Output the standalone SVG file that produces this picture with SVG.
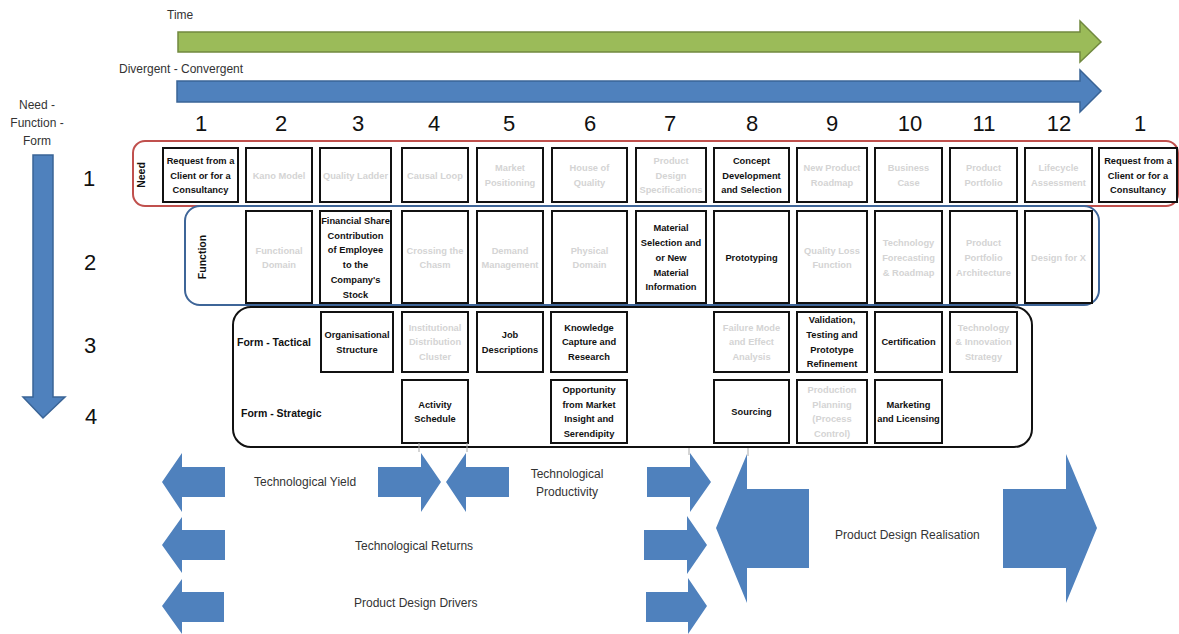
<svg xmlns="http://www.w3.org/2000/svg" width="1179" height="634" viewBox="0 0 1179 634">
<style>
text{font-family:"Liberation Sans",Arial,sans-serif}
.lbl{font-size:12px;fill:#333}
.num{font-size:22px;fill:#111}
.cell{fill:#fff;stroke:#111;stroke-width:2}
.t{font-size:9.3px;font-weight:bold;text-anchor:middle;fill:#111}
.g{font-size:9.3px;font-weight:bold;text-anchor:middle;fill:#d4d4d4}
.hdr{font-size:10.5px;font-weight:bold;fill:#111}
.blue{fill:#4f81bd}
.tick{stroke:#aaa;stroke-width:1}
</style>
<g id="time-arrow">
<path d="M178,32 H1080 V21 L1101,42 L1080,62 V52 H178 Z" fill="#9bbb59" stroke="#71893f" stroke-width="1.5"/>
<text class="lbl" x="167" y="19">Time</text>
</g>
<g id="divergent-arrow">
<path d="M177,81 H1080 V70 L1101,91 L1080,112 V102 H177 Z" fill="#4f81bd" stroke="#3a6496" stroke-width="1.5"/>
<text class="lbl" x="119" y="73">Divergent - Convergent</text>
</g>
<g id="nff-arrow">
<text class="lbl" x="37" y="109" text-anchor="middle">Need -</text>
<text class="lbl" x="37" y="127" text-anchor="middle">Function -</text>
<text class="lbl" x="37" y="145" text-anchor="middle">Form</text>
<path d="M33,155 H53 V397 H65 L43,418 L23,397 H33 Z" fill="#4f81bd" stroke="#3a6496" stroke-width="1.5"/>
</g>
<g id="column-numbers" class="num" text-anchor="middle">
<text x="201" y="131" class="num">1</text>
<text x="281" y="131" class="num">2</text>
<text x="358" y="131" class="num">3</text>
<text x="434" y="131" class="num">4</text>
<text x="509" y="131" class="num">5</text>
<text x="590" y="131" class="num">6</text>
<text x="670" y="131" class="num">7</text>
<text x="752" y="131" class="num">8</text>
<text x="832" y="131" class="num">9</text>
<text x="910" y="131" class="num">10</text>
<text x="984" y="131" class="num">11</text>
<text x="1059" y="131" class="num">12</text>
<text x="1140" y="131" class="num">1</text>
</g>
<g id="row-numbers" text-anchor="middle">
<text x="89" y="186" class="num">1</text>
<text x="90" y="270" class="num">2</text>
<text x="90" y="353" class="num">3</text>
<text x="91" y="424" class="num">4</text>
</g>
<g id="need-band">
<rect x="133" y="141" width="1045" height="65" rx="12" fill="none" stroke="#c0504d" stroke-width="2"/>
<text class="hdr" transform="translate(145,175) rotate(-90)" text-anchor="middle">Need</text>
</g>
<g id="function-band">
<rect x="185" y="206" width="914" height="99" rx="15" fill="none" stroke="#3e6598" stroke-width="2"/>
<text class="hdr" transform="translate(206,257) rotate(-90)" text-anchor="middle">Function</text>
</g>
<g id="form-band">
<rect x="233" y="307" width="799" height="140" rx="18" fill="none" stroke="#111" stroke-width="2"/>
<text class="hdr" x="237" y="346">Form - Tactical</text>
<text class="hdr" x="241" y="417">Form - Strategic</text>
</g>
<g id="need-1"><rect class="cell" x="163" y="148" width="75" height="54"/><text class="t" x="200.5" y="164">Request from a</text><text class="t" x="200.5" y="178.6">Client or for a</text><text class="t" x="200.5" y="193.3">Consultancy</text></g>
<g id="need-2"><rect class="cell" x="246" y="148" width="66" height="54"/><text class="g" x="279" y="178.6">Kano Model</text></g>
<g id="need-3"><rect class="cell" x="320" y="148" width="71" height="54"/><text class="g" x="355.5" y="178.6">Quality Ladder</text></g>
<g id="need-4"><rect class="cell" x="402" y="148" width="66" height="54"/><text class="g" x="435" y="178.6">Causal Loop</text></g>
<g id="need-5"><rect class="cell" x="477" y="148" width="66" height="54"/><text class="g" x="510" y="171.3">Market</text><text class="g" x="510" y="186">Positioning</text></g>
<g id="need-6"><rect class="cell" x="552" y="148" width="75" height="54"/><text class="g" x="589.5" y="171.3">House of</text><text class="g" x="589.5" y="186">Quality</text></g>
<g id="need-7"><rect class="cell" x="636" y="148" width="70" height="54"/><text class="g" x="671" y="164">Product</text><text class="g" x="671" y="178.6">Design</text><text class="g" x="671" y="193.3">Specifications</text></g>
<g id="need-8"><rect class="cell" x="714" y="148" width="75" height="54"/><text class="t" x="751.5" y="164">Concept</text><text class="t" x="751.5" y="178.6">Development</text><text class="t" x="751.5" y="193.3">and Selection</text></g>
<g id="need-9"><rect class="cell" x="797" y="148" width="70" height="54"/><text class="g" x="832" y="171.3">New Product</text><text class="g" x="832" y="186">Roadmap</text></g>
<g id="need-10"><rect class="cell" x="875" y="148" width="67" height="54"/><text class="g" x="908.5" y="171.3">Business</text><text class="g" x="908.5" y="186">Case</text></g>
<g id="need-11"><rect class="cell" x="950" y="148" width="67" height="54"/><text class="g" x="983.5" y="171.3">Product</text><text class="g" x="983.5" y="186">Portfolio</text></g>
<g id="need-12"><rect class="cell" x="1025" y="148" width="67" height="54"/><text class="g" x="1058.5" y="171.3">Lifecycle</text><text class="g" x="1058.5" y="186">Assessment</text></g>
<g id="need-13"><rect class="cell" x="1099" y="148" width="78" height="54"/><text class="t" x="1138" y="164">Request from a</text><text class="t" x="1138" y="178.6">Client or for a</text><text class="t" x="1138" y="193.3">Consultancy</text></g>
<g id="func-2"><rect class="cell" x="246" y="211" width="66" height="92"/><text class="g" x="279" y="253.5">Functional</text><text class="g" x="279" y="268.2">Domain</text></g>
<g id="func-3"><rect class="cell" x="320" y="211" width="71" height="92"/><text class="t" x="355.5" y="224">Financial Share</text><text class="t" x="355.5" y="238.7">Contribution</text><text class="t" x="355.5" y="253.4">of Employee</text><text class="t" x="355.5" y="268.1">to the</text><text class="t" x="355.5" y="282.8">Company's</text><text class="t" x="355.5" y="297.5">Stock</text></g>
<g id="func-4"><rect class="cell" x="402" y="211" width="66" height="92"/><text class="g" x="435" y="253.5">Crossing the</text><text class="g" x="435" y="268.2">Chasm</text></g>
<g id="func-5"><rect class="cell" x="477" y="211" width="66" height="92"/><text class="g" x="510" y="253.5">Demand</text><text class="g" x="510" y="268.2">Management</text></g>
<g id="func-6"><rect class="cell" x="552" y="211" width="75" height="92"/><text class="g" x="589.5" y="253.5">Physical</text><text class="g" x="589.5" y="268.2">Domain</text></g>
<g id="func-7"><rect class="cell" x="636" y="211" width="70" height="92"/><text class="t" x="671" y="231.4">Material</text><text class="t" x="671" y="246.1">Selection and</text><text class="t" x="671" y="260.8">or New</text><text class="t" x="671" y="275.5">Material</text><text class="t" x="671" y="290.2">Information</text></g>
<g id="func-8"><rect class="cell" x="714" y="211" width="75" height="92"/><text class="t" x="751.5" y="260.8">Prototyping</text></g>
<g id="func-9"><rect class="cell" x="797" y="211" width="70" height="92"/><text class="g" x="832" y="253.5">Quality Loss</text><text class="g" x="832" y="268.2">Function</text></g>
<g id="func-10"><rect class="cell" x="875" y="211" width="67" height="92"/><text class="g" x="908.5" y="246.3">Technology</text><text class="g" x="908.5" y="260.8">Forecasting</text><text class="g" x="908.5" y="275.5">&amp; Roadmap</text></g>
<g id="func-11"><rect class="cell" x="950" y="211" width="67" height="92"/><text class="g" x="983.5" y="246.3">Product</text><text class="g" x="983.5" y="260.8">Portfolio</text><text class="g" x="983.5" y="275.5">Architecture</text></g>
<g id="func-12"><rect class="cell" x="1025" y="211" width="67" height="92"/><text class="g" x="1058.5" y="260.8">Design for X</text></g>
<g id="tac-3"><rect class="cell" x="321" y="312" width="72" height="60"/><text class="t" x="357" y="338">Organisational</text><text class="t" x="357" y="352.7">Structure</text></g>
<g id="tac-4"><rect class="cell" x="402" y="312" width="66" height="60"/><text class="g" x="435" y="330.6">Institutional</text><text class="g" x="435" y="345.3">Distribution</text><text class="g" x="435" y="360">Cluster</text></g>
<g id="tac-5"><rect class="cell" x="477" y="312" width="66" height="60"/><text class="t" x="510" y="338">Job</text><text class="t" x="510" y="352.7">Descriptions</text></g>
<g id="tac-6"><rect class="cell" x="551" y="312" width="76" height="60"/><text class="t" x="589" y="330.6">Knowledge</text><text class="t" x="589" y="345.3">Capture and</text><text class="t" x="589" y="360">Research</text></g>
<g id="tac-8"><rect class="cell" x="714" y="312" width="75" height="60"/><text class="g" x="751.5" y="330.6">Failure Mode</text><text class="g" x="751.5" y="345.3">and Effect</text><text class="g" x="751.5" y="360">Analysis</text></g>
<g id="tac-9"><rect class="cell" x="797" y="312" width="70" height="60"/><text class="t" x="832" y="323.3">Validation,</text><text class="t" x="832" y="338">Testing and</text><text class="t" x="832" y="352.7">Prototype</text><text class="t" x="832" y="367.4">Refinement</text></g>
<g id="tac-10"><rect class="cell" x="875" y="312" width="67" height="60"/><text class="t" x="908.5" y="345.3">Certification</text></g>
<g id="tac-11"><rect class="cell" x="950" y="312" width="67" height="60"/><text class="g" x="983.5" y="330.6">Technology</text><text class="g" x="983.5" y="345.3">&amp; Innovation</text><text class="g" x="983.5" y="360">Strategy</text></g>
<g id="str-4"><rect class="cell" x="402" y="380" width="66" height="63"/><text class="t" x="435" y="407.5">Activity</text><text class="t" x="435" y="422.2">Schedule</text></g>
<g id="str-6"><rect class="cell" x="551" y="380" width="76" height="63"/><text class="t" x="589" y="392.8">Opportunity</text><text class="t" x="589" y="407.5">from Market</text><text class="t" x="589" y="422.2">Insight and</text><text class="t" x="589" y="436.9">Serendipity</text></g>
<g id="str-8"><rect class="cell" x="714" y="380" width="75" height="63"/><text class="t" x="751.5" y="414.8">Sourcing</text></g>
<g id="str-9"><rect class="cell" x="797" y="380" width="70" height="63"/><text class="g" x="832" y="392.8">Production</text><text class="g" x="832" y="407.5">Planning</text><text class="g" x="832" y="422.2">(Process</text><text class="g" x="832" y="436.9">Control)</text></g>
<g id="str-10"><rect class="cell" x="875" y="380" width="67" height="63"/><text class="t" x="908.5" y="407.5">Marketing</text><text class="t" x="908.5" y="422.2">and Licensing</text></g>
<g id="connectors">
<line class="tick" x1="419" y1="443" x2="419" y2="452"/>
<line class="tick" x1="467" y1="443" x2="467" y2="452"/>
<line class="tick" x1="689" y1="448" x2="689" y2="455"/>
<line class="tick" x1="748" y1="448" x2="748" y2="456"/>
</g>
<g id="technological-yield">
<path class="blue" d="M162,482 L182,453 V467 H225 V497 H182 V512 Z"/>
<path class="blue" d="M378,467 H421 V453 L441,482 L421,512 V497 H378 Z"/>
<text class="lbl" x="254" y="486">Technological Yield</text>
</g>
<g id="technological-productivity">
<path class="blue" d="M446,482 L466,453 V467 H509 V497 H466 V512 Z"/>
<path class="blue" d="M647,467 H690 V453 L711,482 L690,512 V497 H647 Z"/>
<text class="lbl" x="567" y="478" text-anchor="middle">Technological</text>
<text class="lbl" x="567" y="496" text-anchor="middle">Productivity</text>
</g>
<g id="technological-returns">
<path class="blue" d="M162,545 L182,517 V530 H225 V560 H182 V573 Z"/>
<path class="blue" d="M644,530 H687 V516 L707,545 L687,574 V560 H644 Z"/>
<text class="lbl" x="355" y="550">Technological Returns</text>
</g>
<g id="product-design-drivers">
<path class="blue" d="M162,606 L182,579 V592 H224 V622 H182 V634 Z"/>
<path class="blue" d="M646,592 H688 V578 L707,606 L688,634 V622 H646 Z"/>
<text class="lbl" x="354" y="607">Product Design Drivers</text>
</g>
<g id="product-design-realisation">
<path class="blue" d="M716,528 L747,454 V489 H809 V568 H747 V603 Z"/>
<path class="blue" d="M1003,489 H1066 V454 L1097,528 L1066,603 V568 H1003 Z"/>
<text class="lbl" x="835" y="539">Product Design Realisation</text>
</g>
</svg>
